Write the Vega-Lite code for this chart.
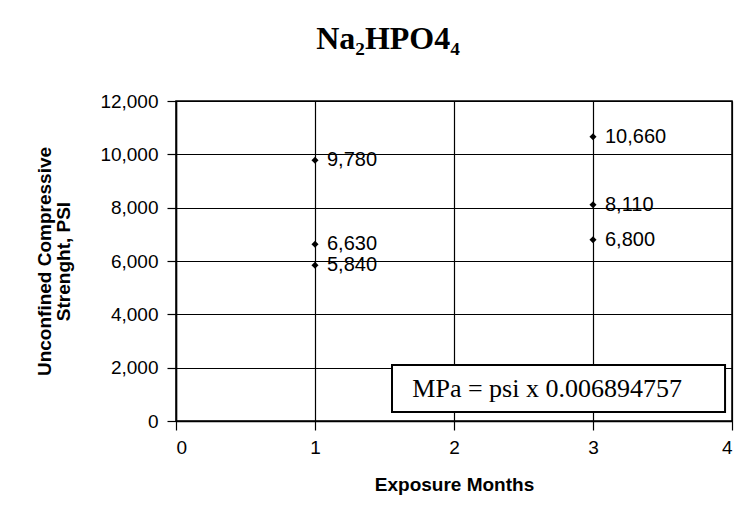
{
  "$schema": "https://vega.github.io/schema/vega-lite/v6.json",
  "width": 556,
  "height": 320,
  "autosize": {"type": "none"},
  "padding": {"left": 176, "top": 101, "right": 6, "bottom": 95},
  "background": "white",
  "title": {
    "text": "Na₂HPO4₄",
    "font": "Liberation Serif",
    "fontSize": 32,
    "fontWeight": "bold",
    "color": "black",
    "anchor": "middle",
    "dx": -66,
    "baseline": "alphabetic",
    "offset": 11
  },
  "config": {
    "view": {"stroke": "black", "strokeWidth": 1.5},
    "axis": {
      "labelFont": "Liberation Sans",
      "labelFontSize": 19,
      "labelColor": "black",
      "titleFont": "Liberation Sans",
      "titleFontSize": 19,
      "titleFontWeight": "bold",
      "titleColor": "black",
      "domainColor": "black",
      "domainWidth": 1.5,
      "tickColor": "black",
      "tickWidth": 1.2,
      "gridColor": "black",
      "gridWidth": 1.2,
      "gridOpacity": 1
    }
  },
  "datasets": {
    "points": [
      {"month": 1, "psi": 9780, "label": "9,780"},
      {"month": 1, "psi": 6630, "label": "6,630"},
      {"month": 1, "psi": 5840, "label": "5,840"},
      {"month": 3, "psi": 10660, "label": "10,660"},
      {"month": 3, "psi": 8110, "label": "8,110"},
      {"month": 3, "psi": 6800, "label": "6,800"}
    ],
    "note": [
      {"x1": 1.554, "x2": 3.95, "y1": 337, "y2": 2100, "tx": 1.70, "ty": 1200, "text": "MPa = psi x 0.006894757"}
    ]
  },
  "layer": [
    {
      "data": {"name": "points"},
      "mark": {"type": "point", "shape": "diamond", "filled": true, "color": "black", "size": 50, "opacity": 1},
      "encoding": {
        "x": {
          "field": "month", "type": "quantitative",
          "scale": {"domain": [0, 4], "nice": false, "zero": true},
          "axis": {"values": [0, 1, 2, 3, 4], "format": "d", "title": "Exposure Months", "tickSize": 9, "labelPadding": 8, "titlePadding": 18, "grid": true}
        },
        "y": {
          "field": "psi", "type": "quantitative",
          "scale": {"domain": [0, 12000], "nice": false},
          "axis": {"values": [0, 2000, 4000, 6000, 8000, 10000, 12000], "format": ",d", "title": ["Unconfined Compressive", "Strenght, PSI"], "titleLineHeight": 19, "tickSize": 9, "labelPadding": 9, "titlePadding": 26, "grid": true}
        }
      }
    },
    {
      "data": {"name": "points"},
      "mark": {"type": "text", "align": "left", "baseline": "middle", "dx": 12, "font": "Liberation Sans", "fontSize": 20, "color": "black"},
      "encoding": {
        "x": {"field": "month", "type": "quantitative"},
        "y": {"field": "psi", "type": "quantitative"},
        "text": {"field": "label"}
      }
    },
    {
      "data": {"name": "note"},
      "mark": {"type": "rect", "fill": "white", "stroke": "black", "strokeWidth": 2},
      "encoding": {
        "x": {"field": "x1", "type": "quantitative"},
        "x2": {"field": "x2"},
        "y": {"field": "y1", "type": "quantitative"},
        "y2": {"field": "y2"}
      }
    },
    {
      "data": {"name": "note"},
      "mark": {"type": "text", "align": "left", "baseline": "middle", "font": "Liberation Serif", "fontSize": 26, "color": "black"},
      "encoding": {
        "x": {"field": "tx", "type": "quantitative"},
        "y": {"field": "ty", "type": "quantitative"},
        "text": {"field": "text"}
      }
    }
  ]
}
